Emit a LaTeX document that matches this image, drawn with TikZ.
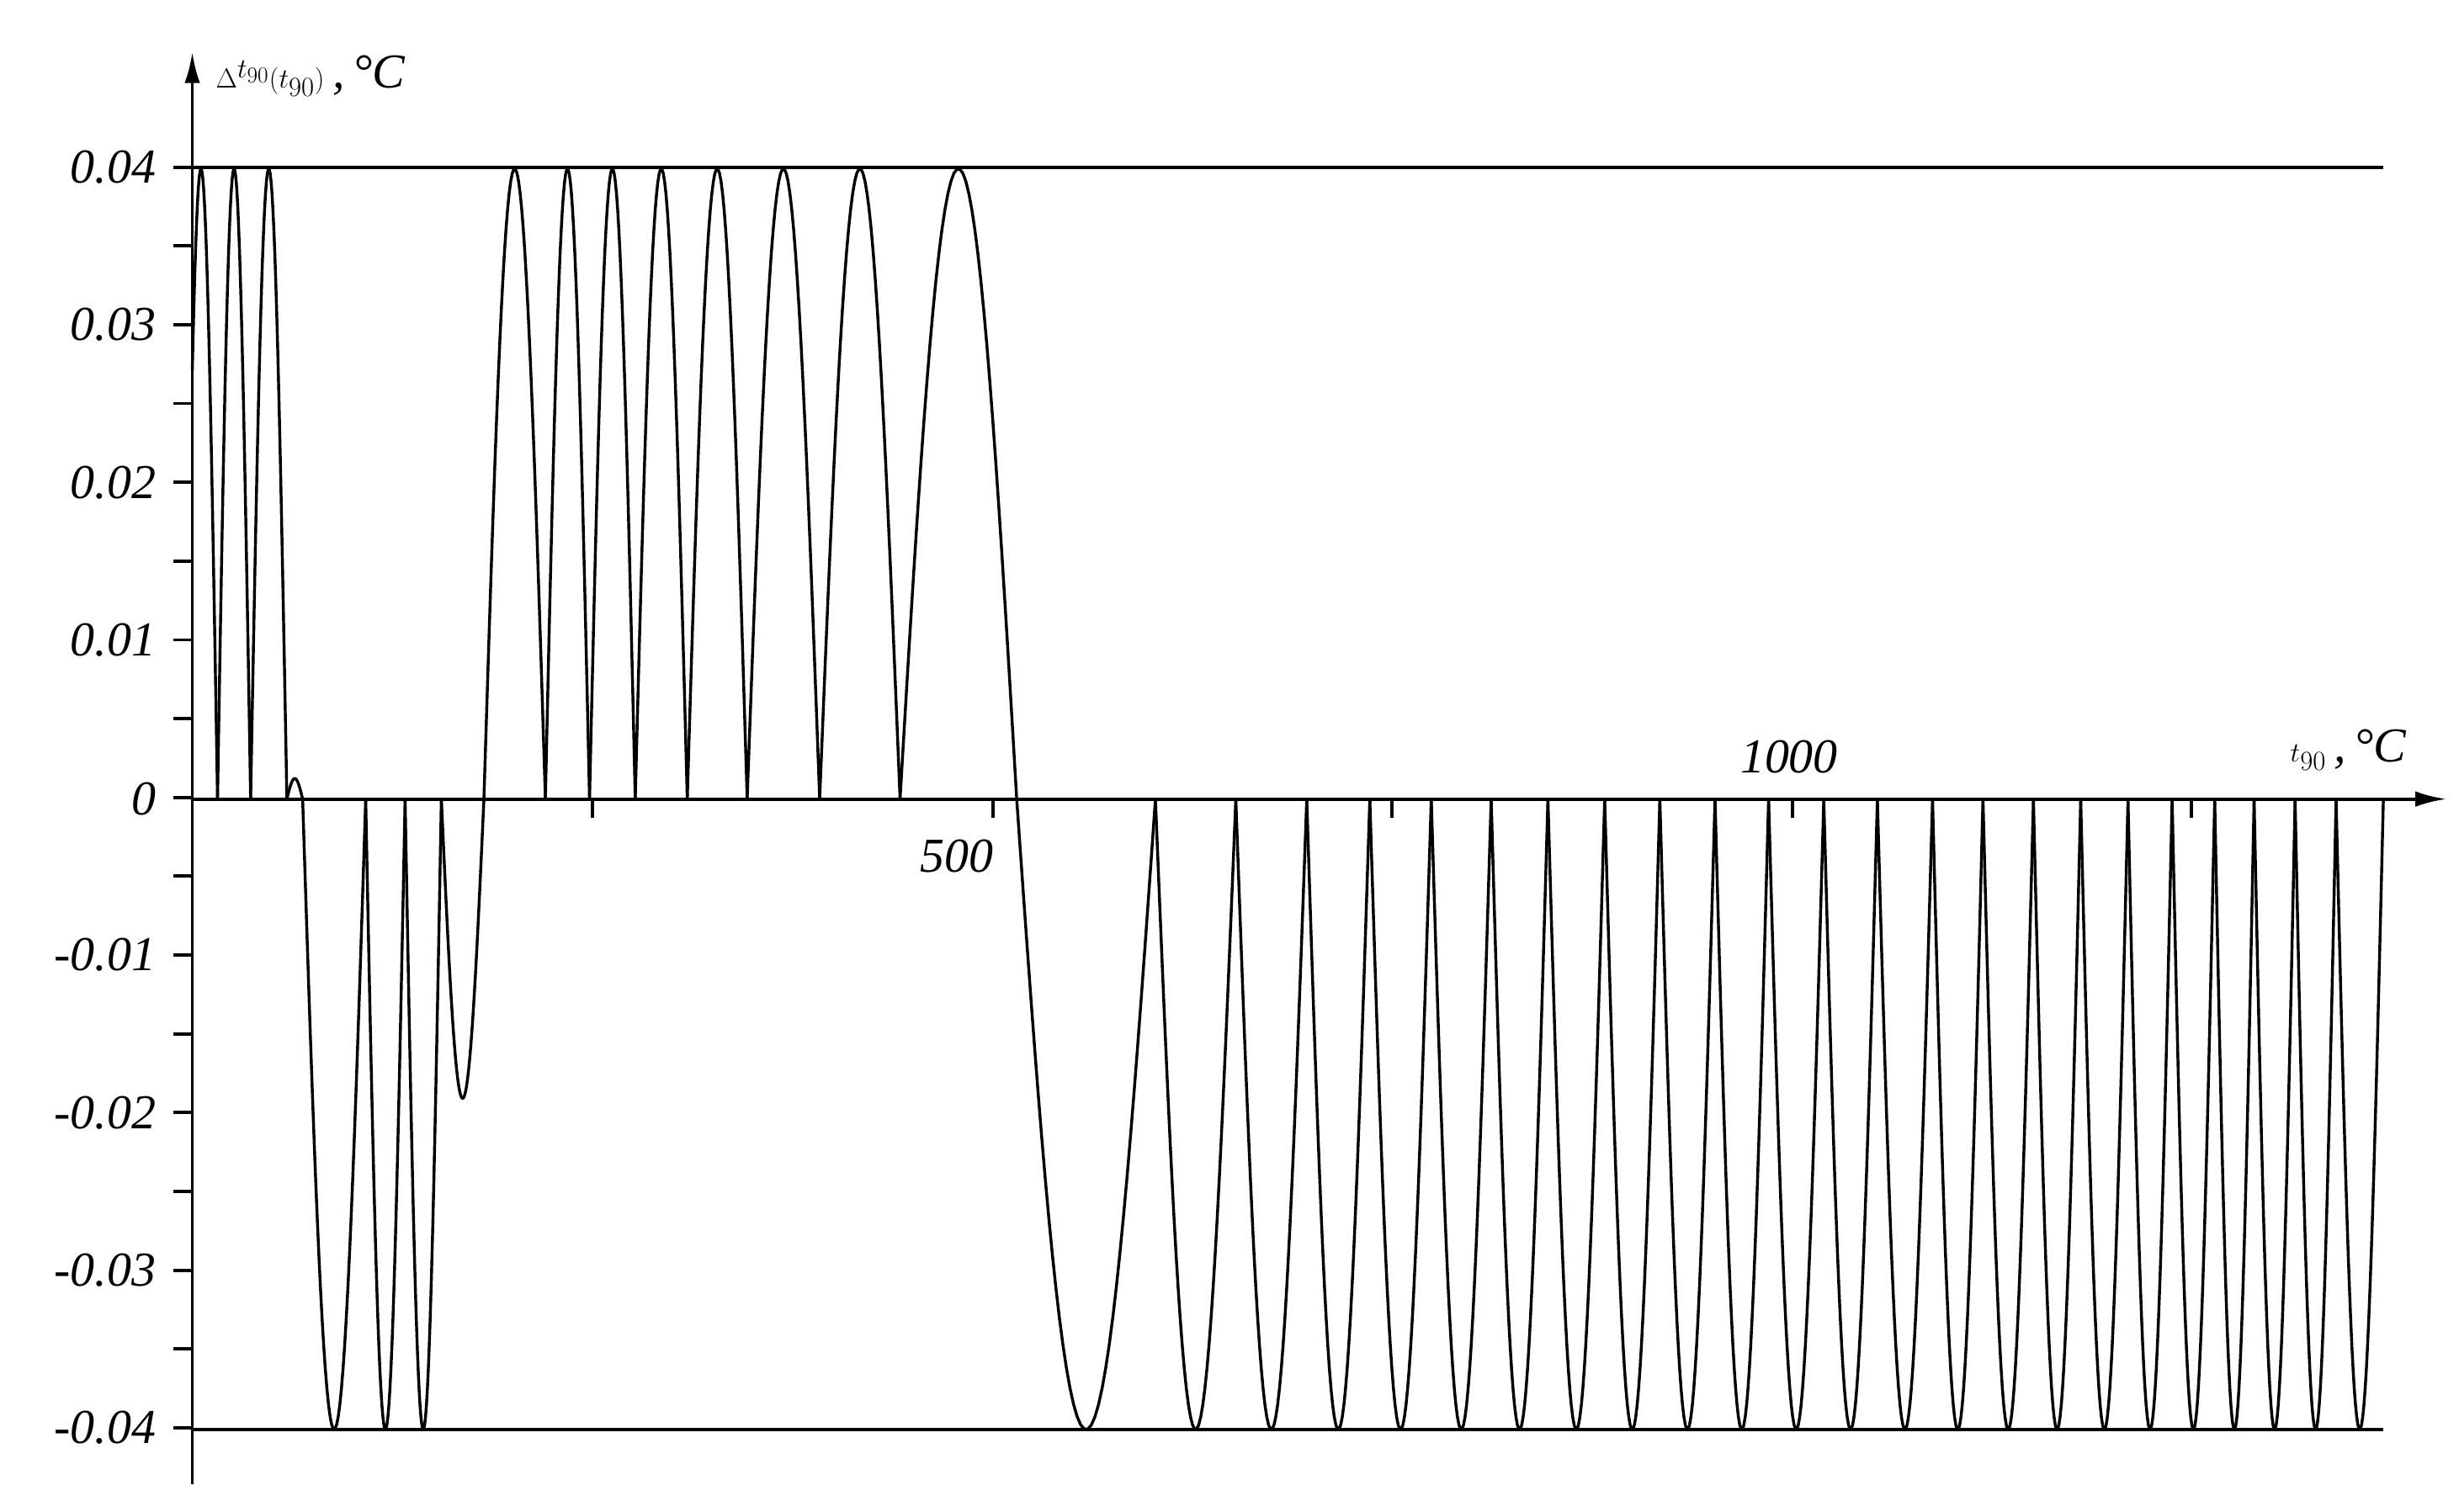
\documentclass[tikz,border=0pt]{standalone}
\usepackage{fontspec}
\setmainfont{Liberation Serif}
\usetikzlibrary{arrows.meta}
\begin{document}
\begin{tikzpicture}[x=0.05cm,y=-0.05cm,line width=3pt,
  lab/.style={font=\fontsize{44}{50}\selectfont\itshape,inner sep=0pt},
  crv/.style={line width=2.6pt,line join=round}]
\useasboundingbox (0,0) rectangle (1560,959);
% axes
\coordinate (yb) at (122,942); \coordinate (yt) at (122,33);
\coordinate (xl) at (122,507); \coordinate (xr) at (1552,507);
\draw[-{Latex[length=28pt,width=14pt]}] (yb) -- (yt);
\draw[-{Latex[length=28pt,width=14pt]}] (xl) -- (xr);
\draw (122,106) -- (1512,106);
\draw (122,907) -- (1512,907);
% y ticks
\foreach \k in {0,...,16} \draw (110,{106+50*\k}) -- (122,{106+50*\k});
\foreach \v/\t in {0/0.04,1/0.03,2/0.02,3/0.01,5/-0.01,6/-0.02,7/-0.03,8/-0.04}
  \node[lab,anchor=east] at (100,{106+100*\v}) {\t};
\node[lab,anchor=east] at (100,507) {0};
% x ticks
\foreach \x in {376,630,883,1137,1390} \draw (\x,507) -- (\x,519);
\node[lab] at (607,543) {500};
\node[lab] at (1135,480) {1000};
\node[lab,anchor=west] at (1452,476) {$t_{90}$\,,\,°C};
\node[lab,anchor=west] at (136,48) {$\Delta^{t_{90}}(t_{90})$\,,\,°C};
% curve
\draw[crv] plot[domain=122:138,samples=30] (\x,{507-400*sin(180*(\x-122+5)/(138-122+5))});
\foreach \a/\b/\A in {138/159/400,159/182/400,182/192/13,192/232/-400,232/257/-400,257/280/-400,280/307/-190,
 307/346/400,346/374/400,374/403/400,403/436/400,436/474/400,474/520/400,520/571/400,571/645/400,
 645/733/-400,733/784/-400,784/829/-400,829/869/-400,869/908/-400,908/946/-400,946/982/-400,982/1018/-400,
 1018/1053/-400,1053/1088/-400,1088/1122/-400,1122/1157/-400,1157/1191/-400,1191/1226/-400,1226/1258/-400,
 1258/1290/-400,1290/1320/-400,1320/1350/-400,1350/1378/-400,1378/1405/-400,1405/1430/-400,1430/1456/-400,
 1456/1482/-400,1482/1512/-400}
  \draw[crv] plot[domain=\a:\b,samples=40] (\x,{507-\A*sin(180*(\x-\a)/(\b-\a))});
\end{tikzpicture}
\end{document}
